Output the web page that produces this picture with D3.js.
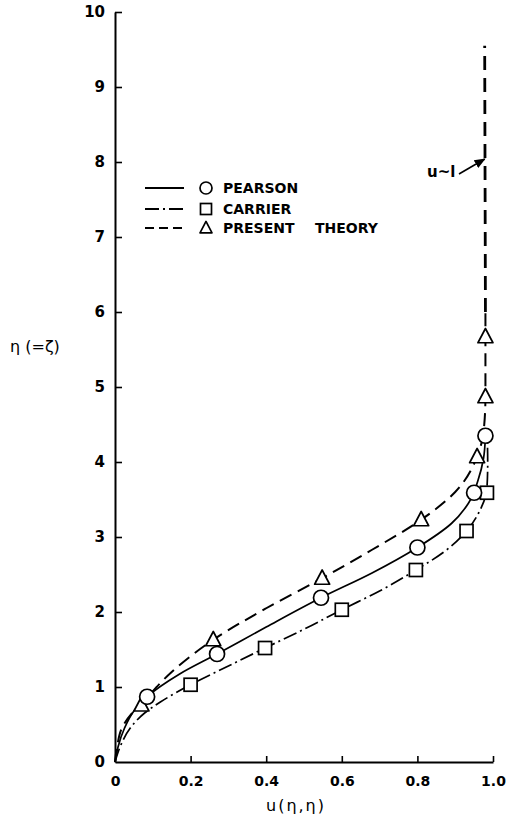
<!DOCTYPE html>
<html><head><meta charset="utf-8">
<script src="https://cdn.jsdelivr.net/npm/d3@7"></script>
<style>body{margin:0;background:#fff}svg{display:block}</style>
</head><body>
<script>
// ---- data ----
const xTicks = [0, 0.2, 0.4, 0.6, 0.8, 1.0];
const xTickLabels = ["0", "0.2", "0.4", "0.6", "0.8", "1.0"];
const yTicks = [0,1,2,3,4,5,6,7,8,9,10];

const pearsonPts = [[0.085,0.87],[0.27,1.44],[0.545,2.19],[0.80,2.86],[0.95,3.59],[0.98,4.35]];
const carrierPts = [[0.20,1.03],[0.397,1.52],[0.60,2.03],[0.796,2.56],[0.93,3.08],[0.984,3.59]];
const presentPts = [[0.07,0.76],[0.26,1.63],[0.548,2.45],[0.81,3.23],[0.958,4.07],[0.98,4.87],[0.98,5.67]];

const pearsonCurve = [[0,0],[0.008,0.2],[0.025,0.45],[0.05,0.68],[0.085,0.87],[0.17,1.17],[0.27,1.44],[0.4,1.8],[0.545,2.19],[0.68,2.52],[0.80,2.86],[0.89,3.18],[0.935,3.45],[0.96,3.75],[0.975,4.05],[0.98,4.35]];
const carrierCurve = [[0,0],[0.015,0.22],[0.04,0.45],[0.08,0.66],[0.12,0.8],[0.20,1.03],[0.3,1.28],[0.397,1.52],[0.5,1.77],[0.60,2.03],[0.7,2.28],[0.796,2.56],[0.87,2.8],[0.93,3.08],[0.965,3.35],[0.984,3.65],[0.986,4.0],[0.985,4.3]];
const presentCurve = [[0,0],[0.006,0.22],[0.02,0.47],[0.045,0.65],[0.07,0.78],[0.15,1.2],[0.26,1.63],[0.4,2.05],[0.548,2.45],[0.68,2.83],[0.81,3.23],[0.9,3.6],[0.958,4.07],[0.976,4.45],[0.98,4.87],[0.98,5.67],[0.98,6.0]];
const presentAsymptote = [[0.98,6.0],[0.978,9.55]];

const legendNames = ["PEARSON", "CARRIER", "PRESENT"];
const legendExtra = "THEORY";
const xLabel = "u(\u03b7,\u03b7)";
const yLabel = "\u03b7 (=\u03b6)";
const noteLabel = "u~l";

// ---- drawing ----
const W = 506, H = 816;
const svg = d3.select("body").append("svg").attr("width", W).attr("height", H);
const x = d3.scaleLinear().domain([0, 1]).range([115, 493]);
const y = d3.scaleLinear().domain([0, 10]).range([762, 12]);
const font = "'DejaVu Sans', sans-serif";

// axes
const xAxis = d3.axisBottom(x).tickValues(xTicks).tickSize(0).tickSizeOuter(0).tickFormat((d,i)=>xTickLabels[i]).tickPadding(14);
const gx = svg.append("g").attr("transform", `translate(0,${y(0)})`).call(xAxis);
gx.select(".domain").attr("stroke", "#000").attr("stroke-width", 2);
gx.selectAll("text").attr("font-family", font).attr("font-size", 14).attr("font-weight", "bold").attr("fill", "#000");
gx.selectAll(".tick").filter(d => d > 0).append("line").attr("y1", 0).attr("y2", -6).attr("stroke", "#000").attr("stroke-width", 1.6);

const yAxis = d3.axisLeft(y).tickValues(yTicks).tickSize(0).tickSizeOuter(0).tickPadding(10);
const gy = svg.append("g").attr("transform", `translate(${x(0)},0)`).call(yAxis);
gy.select(".domain").attr("stroke", "#000").attr("stroke-width", 2);
gy.selectAll("text").attr("font-family", font).attr("font-size", 15).attr("font-weight", "bold").attr("fill", "#000");
gy.selectAll(".tick").filter(d => d > 0).append("line").attr("x1", 0).attr("x2", 7).attr("stroke", "#000").attr("stroke-width", 1.6);

// axis titles
svg.append("text").attr("x", 10).attr("y", 352).attr("font-family", font).attr("font-size", 16).text(yLabel);
svg.append("text").attr("x", 296).attr("y", 811).attr("text-anchor", "middle").attr("font-family", font).attr("font-size", 16).attr("letter-spacing", 2).text(xLabel);

// curves
const line = d3.line().x(d => x(d[0])).y(d => y(d[1])).curve(d3.curveMonotoneY);
svg.append("path").datum(pearsonCurve).attr("d", line).attr("fill", "none").attr("stroke", "#000").attr("stroke-width", 1.7);
svg.append("path").datum(carrierCurve).attr("d", line).attr("fill", "none").attr("stroke", "#000").attr("stroke-width", 1.7).attr("stroke-dasharray", "14,4,2,4");
svg.append("path").datum(presentCurve).attr("d", line).attr("fill", "none").attr("stroke", "#000").attr("stroke-width", 2).attr("stroke-dasharray", "13,7");
svg.append("path").datum(presentAsymptote).attr("d", d3.line().x(d => x(d[0])).y(d => y(d[1]))).attr("fill", "none").attr("stroke", "#000").attr("stroke-width", 2.8).attr("stroke-dasharray", "14,8");

// markers
const circ = (g, px, py, r) => g.append("circle").attr("cx", px).attr("cy", py).attr("r", r).attr("fill", "#fff").attr("stroke", "#000").attr("stroke-width", 1.7);
const sq = (g, px, py, s) => g.append("rect").attr("x", px - s/2).attr("y", py - s/2).attr("width", s).attr("height", s).attr("fill", "#fff").attr("stroke", "#000").attr("stroke-width", 1.7);
const tri = (g, px, py, s) => g.append("path").attr("d", `M${px},${py - s*0.55}L${px + s/2},${py + s*0.4}L${px - s/2},${py + s*0.4}Z`).attr("fill", "#fff").attr("stroke", "#000").attr("stroke-width", 1.7).attr("stroke-linejoin","round");
const gm = svg.append("g");
presentPts.forEach(d => tri(gm, x(d[0]), y(d[1]), 15));
carrierPts.forEach(d => sq(gm, x(d[0]), y(d[1]), 13));
pearsonPts.forEach(d => circ(gm, x(d[0]), y(d[1]), 7.5));

// legend
const lg = svg.append("g");
const ly = [188, 209, 228];
const dashes = [null, "14,4,2,4", "9,5"];
legendNames.forEach((name, i) => {
  const l = lg.append("line").attr("x1", 145).attr("x2", 184).attr("y1", ly[i]).attr("y2", ly[i]).attr("stroke", "#000").attr("stroke-width", 1.8);
  if (dashes[i]) l.attr("stroke-dasharray", dashes[i]);
  lg.append("text").attr("x", 223).attr("y", ly[i] + 5).attr("font-family", font).attr("font-size", 14).attr("font-weight", "bold").text(name);
});
lg.append("text").attr("x", 315).attr("y", ly[2] + 5).attr("font-family", font).attr("font-size", 14).attr("font-weight", "bold").text(legendExtra);
circ(lg, 206, ly[0], 6);
sq(lg, 206, ly[1], 11);
tri(lg, 206, ly[2], 12);

// note u~1 with arrow
svg.append("defs").append("marker").attr("id", "ah").attr("viewBox", "0 0 10 10").attr("refX", 9).attr("refY", 5)
  .attr("markerWidth", 7).attr("markerHeight", 7).attr("orient", "auto")
  .append("path").attr("d", "M0,1L10,5L0,9Z").attr("fill", "#000");
svg.append("text").attr("x", 427).attr("y", 177).attr("font-family", font).attr("font-size", 15).attr("font-weight","bold").text(noteLabel);
svg.append("line").attr("x1", 459).attr("y1", 174).attr("x2", x(0.978)).attr("y2", 159).attr("stroke", "#000").attr("stroke-width", 1.6).attr("marker-end", "url(#ah)");
</script>
</body></html>
